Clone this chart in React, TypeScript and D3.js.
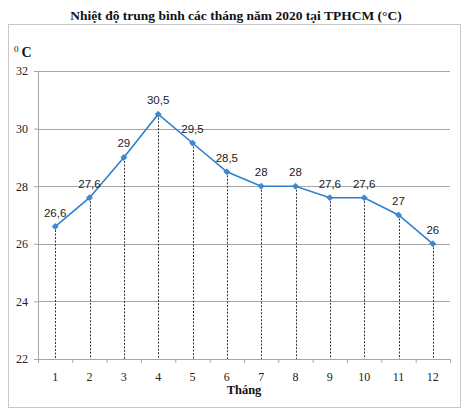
import { useEffect, useRef } from 'react'
import * as d3 from 'd3'

const months = ['1', '2', '3', '4', '5', '6', '7', '8', '9', '10', '11', '12']
const temps = [26.6, 27.6, 29, 30.5, 29.5, 28.5, 28, 28, 27.6, 27.6, 27, 26]
const yTicks = [22, 24, 26, 28, 30, 32]

const title = 'Nhiệt độ trung bình các tháng năm 2020 tại TPHCM (°C)'
const xTitle = 'Tháng'

export default function App() {
  const svgRef = useRef<SVGSVGElement>(null)

  useEffect(() => {
    if (!svgRef.current) return
    const width = 472
    const height = 410
    const margin = { top: 71, right: 22, bottom: 51, left: 38 }
    const innerWidth = width - margin.left - margin.right
    const innerHeight = height - margin.top - margin.bottom

    const svg = d3.select(svgRef.current)
    svg.selectAll('*').remove()

    // outer frame
    svg
      .append('rect')
      .attr('x', 8.5)
      .attr('y', 24.5)
      .attr('width', 452)
      .attr('height', 383)
      .attr('fill', '#fff')
      .attr('stroke', '#c8c8c8')

    svg
      .append('text')
      .attr('x', 236)
      .attr('y', 20)
      .attr('text-anchor', 'middle')
      .attr('font-family', 'Liberation Serif, serif')
      .attr('font-size', 13.5)
      .attr('font-weight', 'bold')
      .attr('fill', '#111')
      .text(title)

    const x = d3.scaleBand<string>().domain(months).range([0, innerWidth])
    const y = d3.scaleLinear().domain([22, 32]).range([innerHeight, 0])

    const g = svg
      .append('g')
      .attr('transform', `translate(${margin.left},${margin.top})`)

    // gridlines
    g.selectAll('line.grid')
      .data(yTicks)
      .enter()
      .append('line')
      .attr('class', 'grid')
      .attr('x1', 0)
      .attr('x2', innerWidth)
      .attr('y1', (d) => Math.round(y(d)) + 0.5)
      .attr('y2', (d) => Math.round(y(d)) + 0.5)
      .attr('stroke', '#a6a6a6')
      .attr('stroke-width', 1)

    // y axis
    const yAxis = g.append('g').call(
      d3.axisLeft(y).tickValues(yTicks).tickSize(4).tickPadding(6)
    )
    yAxis.select('.domain').attr('stroke', '#a6a6a6')
    yAxis.selectAll('line').attr('stroke', '#a6a6a6')
    yAxis
      .selectAll('text')
      .attr('font-family', 'Liberation Serif, serif')
      .attr('font-size', 12)
      .attr('fill', '#222')

    // x axis
    const xAxis = g
      .append('g')
      .attr('transform', `translate(0,${innerHeight})`)
      .call(d3.axisBottom(x).tickSize(0).tickPadding(13))
    xAxis.select('.domain').attr('stroke', '#a6a6a6')
    xAxis
      .selectAll('text')
      .attr('font-family', 'Liberation Serif, serif')
      .attr('font-size', 12)
      .attr('fill', '#222')
    // tick marks at band boundaries
    xAxis
      .selectAll('line.bound')
      .data(d3.range(months.length + 1))
      .enter()
      .append('line')
      .attr('class', 'bound')
      .attr('x1', (i) => i * x.step() + 0.5)
      .attr('x2', (i) => i * x.step() + 0.5)
      .attr('y1', 0)
      .attr('y2', 4)
      .attr('stroke', '#a6a6a6')

    const cx = (i: number) => (x(months[i]) || 0) + x.bandwidth() / 2

    // dotted drop lines
    g.selectAll('line.drop')
      .data(temps)
      .enter()
      .append('line')
      .attr('class', 'drop')
      .attr('x1', (_, i) => Math.round(cx(i)) + 0.5)
      .attr('x2', (_, i) => Math.round(cx(i)) + 0.5)
      .attr('y1', (d) => y(d))
      .attr('y2', innerHeight)
      .attr('stroke', '#333')
      .attr('stroke-width', 1)
      .attr('stroke-dasharray', '2,1.5')

    // line
    const line = d3
      .line<number>()
      .x((_, i) => cx(i))
      .y((d) => y(d))
    g.append('path')
      .datum(temps)
      .attr('d', line)
      .attr('fill', 'none')
      .attr('stroke', '#2f80d1')
      .attr('stroke-width', 1.6)

    // diamond markers
    const diamond = d3.symbol().type(d3.symbolDiamond2).size(24)
    g.selectAll('path.marker')
      .data(temps)
      .enter()
      .append('path')
      .attr('class', 'marker')
      .attr('d', diamond)
      .attr('transform', (d, i) => `translate(${cx(i)},${y(d)})`)
      .attr('fill', '#3b8ad8')
      .attr('stroke', '#2a6fb8')
      .attr('stroke-width', 0.6)

    // data labels
    g.selectAll('text.label')
      .data(temps)
      .enter()
      .append('text')
      .attr('class', 'label')
      .attr('x', (_, i) => cx(i))
      .attr('y', (d) => y(d) - 10)
      .attr('text-anchor', 'middle')
      .attr('font-family', 'Liberation Sans, Arial, sans-serif')
      .attr('font-size', 11.5)
      .attr('fill', '#222')
      .text((d) => String(d).replace('.', ','))

    // x title
    svg
      .append('text')
      .attr('x', margin.left + innerWidth / 2)
      .attr('y', 394)
      .attr('text-anchor', 'middle')
      .attr('font-family', 'Liberation Serif, serif')
      .attr('font-size', 12.5)
      .attr('font-weight', 'bold')
      .attr('fill', '#111')
      .text(xTitle)

    // y unit
    const unit = svg
      .append('text')
      .attr('x', 14)
      .attr('y', 57)
      .attr('font-family', 'Liberation Serif, serif')
      .attr('fill', '#111')
    unit.append('tspan').attr('font-size', 9).attr('dy', -5).text('0')
    unit
      .append('tspan')
      .attr('font-size', 14)
      .attr('font-weight', 'bold')
      .attr('dx', 3)
      .attr('dy', 5)
      .text('C')
  }, [])

  return (
    <svg
      ref={svgRef}
      width={472}
      height={410}
      style={{ position: 'absolute', left: 0, top: 0, background: '#fff' }}
    />
  )
}
